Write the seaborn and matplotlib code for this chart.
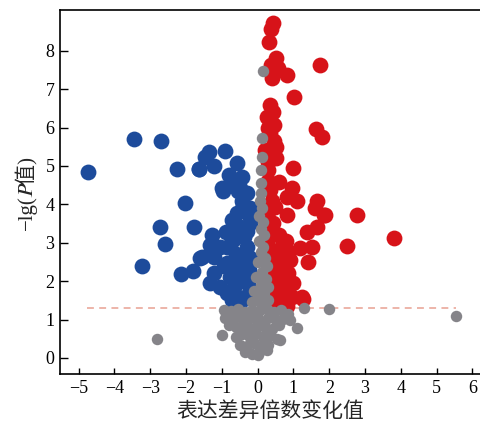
import numpy as np
import pandas as pd
import matplotlib
matplotlib.use("Agg")
import matplotlib.pyplot as plt
import seaborn as sns

# ---- data (log2FC, -lg P) ----
down_x = [-4.74, -3.45, -2.70, -2.26, -1.37, -1.47, -1.63, -1.21, -0.90, -0.58,
          -0.81, -0.44, -0.98, -0.54, -0.30, -2.03, -0.40, -0.21, -0.58, -0.72,
          -0.21, -0.21, -2.74, -1.77, -0.88, -1.28, -0.38, -2.59, -1.33, -0.86,
          -0.30, -1.56, -1.23, -0.86, -0.49, -0.21, -3.23, -2.15, -1.81, -1.23,
          -0.77, -0.35, -1.33, -1.05, -0.63, -0.26, -0.86, -0.44, -0.72, -0.68,
          -1.05, -1.65, -1.00, -0.49, -1.61,
          -0.30, -0.50, -0.70, -0.35, -0.60, -0.25, -0.55, -0.95, -0.40, -0.70,
          -0.25, -0.55, -0.30, -0.75, -0.45, -0.65]
down_y = [4.85, 5.70, 5.64, 4.91, 5.36, 5.24, 4.91, 5.00, 5.40, 5.07,
          4.77, 4.70, 4.35, 4.36, 4.29, 4.03, 3.98, 3.91, 3.77, 3.59,
          3.68, 3.51, 3.42, 3.40, 3.29, 3.20, 3.16, 2.97, 2.94, 2.90,
          2.90, 2.62, 2.64, 2.47, 2.55, 2.60, 2.40, 2.19, 2.27, 2.20,
          2.12, 2.16, 1.95, 1.86, 1.90, 1.95, 1.68, 1.51, 1.51, 3.07,
          2.90, 4.91, 4.42, 4.42, 2.60,
          3.30, 3.40, 3.10, 2.70, 2.70, 2.30, 2.30, 2.40, 2.00, 1.80,
          1.70, 1.60, 3.80, 3.30, 4.10, 4.55]

up_x = [0.44, 0.37, 0.32, 0.52, 0.37, 0.58, 0.82, 0.40, 1.73, 1.02,
        0.35, 0.44, 0.26, 0.46, 0.35, 1.63, 1.79, 0.52, 0.21, 0.52,
        1.00, 0.30, 0.61, 0.35, 0.95, 0.82, 1.09, 0.49, 1.65, 1.61,
        1.89, 2.77, 0.82, 0.44, 1.37, 1.65, 1.51, 1.19, 2.49, 0.72,
        0.54, 0.91, 1.42, 0.86, 0.54, 1.00, 0.72, 0.54, 0.95, 1.28,
        0.72, 3.81, 1.84, 1.23, 0.82,
        0.30, 0.35, 0.28, 0.40, 0.32, 0.45, 0.35, 0.48, 0.38, 0.60,
        0.65, 0.70, 0.62, 0.55, 0.78, 0.40, 0.30, 0.28, 0.45, 0.30,
        0.28, 0.85, 0.65]
up_y = [8.73, 8.56, 8.24, 7.80, 7.63, 7.54, 7.37, 7.28, 7.63, 6.79,
        6.59, 6.41, 6.28, 6.07, 5.85, 5.95, 5.76, 5.50, 5.42, 5.20,
        4.94, 4.90, 4.59, 4.38, 4.42, 4.20, 4.10, 3.94, 4.10, 3.90,
        3.72, 3.72, 3.72, 3.51, 3.29, 3.42, 2.90, 2.86, 2.92, 2.99,
        2.64, 2.55, 2.51, 2.21, 2.12, 1.95, 1.77, 1.60, 1.60, 1.53,
        1.42, 3.13, 3.72, 1.60, 1.34,
        3.80, 3.40, 3.10, 2.80, 2.50, 2.30, 2.00, 1.80, 1.50, 3.20,
        2.70, 2.35, 2.00, 1.40, 3.05, 4.10, 4.60, 5.10, 5.65, 6.00,
        3.60, 2.75, 1.70]

ns_x = [0.15, 0.12, 0.12, 0.10, 0.08, 0.10, 0.06, 0.12, 0.05, 0.14,
        0.08, 0.18, 0.04, 0.15, 0.10, 0.20, 0.02, 0.25, 0.12, -0.05,
        0.22, 0.08, 0.30, -0.10, 0.18, 0.05, 0.28, -0.15, 0.12,
        -0.95, -0.75, -0.55, -0.35, -0.15, 0.05, 0.25, 0.45, 0.65, 0.85,
        -0.90, -0.70, -0.50, -0.30, -0.10, 0.10, 0.30, 0.50, 0.70, 0.91,
        -1.00, -0.80, -0.60, -0.40, -0.20, 0.00, 0.20, 0.40, 0.60, 1.09,
        -0.60, -0.45, -0.25, -0.05, 0.15, 0.35, 0.55, 0.63,
        -0.50, -0.30, -0.10, 0.10, 0.30,
        -0.35, -0.15, 0.05, 0.25, 0.01,
        -2.81, 5.54, 1.30, 1.98]
ns_y = [7.46, 5.72, 5.24, 4.90, 4.55, 4.30, 4.10, 3.90, 3.70, 3.55,
        3.35, 3.20, 3.05, 2.90, 2.75, 2.60, 2.50, 2.40, 2.25, 2.10,
        2.05, 1.90, 1.85, 1.75, 1.70, 1.55, 1.50, 1.45, 1.38,
        1.25, 1.22, 1.28, 1.20, 1.25, 1.22, 1.28, 1.20, 1.25, 1.15,
        1.05, 1.00, 1.08, 0.98, 1.05, 0.95, 1.05, 0.98, 1.02, 0.99,
        0.60, 0.85, 0.80, 0.88, 0.78, 0.85, 0.80, 0.75, 0.85, 0.77,
        0.55, 0.62, 0.58, 0.65, 0.55, 0.60, 0.50, 0.47,
        0.35, 0.30, 0.38, 0.30, 0.35,
        0.15, 0.10, 0.15, 0.20, 0.08,
        0.49, 1.09, 1.29, 1.28]

groups = ["down", "up", "ns"]
colors = {"down": "#1d4b9b", "up": "#d71319", "ns": "#858489"}
threshold = 1.301  # -lg(0.05)

df = pd.concat([
    pd.DataFrame({"fc": down_x, "p": down_y, "group": "down"}),
    pd.DataFrame({"fc": up_x, "p": up_y, "group": "up"}),
    pd.DataFrame({"fc": ns_x, "p": ns_y, "group": "ns"}),
], ignore_index=True)

sns.set_theme(style="ticks")
plt.rcParams["font.family"] = ["Liberation Serif", "STIXGeneral", "Noto Sans CJK SC"]
plt.rcParams["axes.unicode_minus"] = True

fig = plt.figure(figsize=(4.8, 4.28), dpi=100)
ax = fig.add_axes([0.125, 0.126, 0.875, 0.8505])

sizes = {"down": 130, "up": 130, "ns": 68}
for g in groups:
    sub = df[df["group"] == g]
    sns.scatterplot(data=sub, x="fc", y="p", color=colors[g], s=sizes[g],
                    linewidth=0, alpha=1, ax=ax, legend=False,
                    zorder=3 if g == "ns" else 2)

ax.plot([df["fc"].min() - 0.02, df["fc"].max()], [threshold, threshold],
        color="#e8a092", lw=1.1, ls=(0, (4.5, 3.5)), zorder=1)

ax.set_xlim(-5.52, 6.21)
ax.set_ylim(-0.42, 9.06)
ax.set_xticks(range(-5, 7))
ax.set_yticks(range(0, 9))
ax.tick_params(direction="in", length=4.5, width=1, labelsize=13,
               colors="black", pad=4)
ax.tick_params(axis="y", length=6)
for s in ["left", "bottom", "top"]:
    ax.spines[s].set_linewidth(1.2)
    ax.spines[s].set_color("black")
ax.spines["right"].set_visible(False)

ax.set_xlabel("表达差异倍数变化值", fontsize=15, labelpad=4)
# U+1D443 = mathematical italic P (from STIXGeneral)
ax.set_ylabel("−lg(\U0001D443值)", fontsize=15, labelpad=6)

fig.savefig("out.png", dpi=100)
